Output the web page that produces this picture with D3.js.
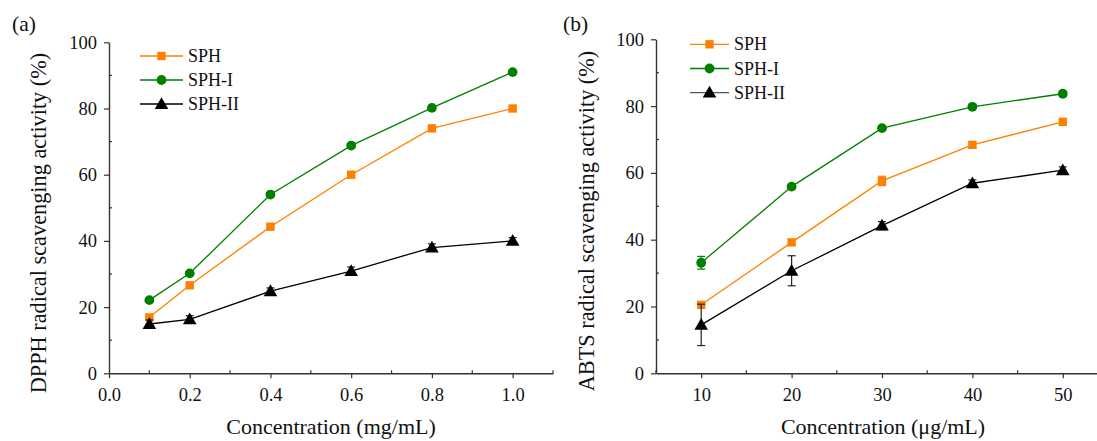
<!DOCTYPE html>
<html>
<head>
<meta charset="utf-8">
<script src="https://cdn.jsdelivr.net/npm/d3@7"></script>
<style>
  html, body { margin: 0; padding: 0; background: #fff; }
  svg { display: block; font-family: "Liberation Serif", "Times New Roman", serif; }
</style>
</head>
<body>
<svg id="chart" width="1097" height="441"></svg>
<script>
// ---- Panel (a): DPPH ----
const dpphConc = [0.1, 0.2, 0.4, 0.6, 0.8, 1.0];
const dpphSPH = [16.9, 26.6, 44.3, 60.0, 74.0, 80.0];
const dpphSPH_I = [22.1, 30.2, 54.0, 68.8, 80.2, 91.0];
const dpphSPH_II = [14.9, 16.3, 24.8, 30.9, 38.0, 40.0];
const dpphErrSPH = [0.6, 0.6, 0.6, 0.5, 0.6, 0.5];
const dpphErrSPH_I = [0.5, 0.6, 0.5, 0.6, 0.5, 0.5];
const dpphErrSPH_II = [1.2, 1.1, 1.0, 1.2, 1.1, 1.0];
const dpphXTicks = [0.0, 0.2, 0.4, 0.6, 0.8, 1.0];

// ---- Panel (b): ABTS ----
const abtsConc = [10, 20, 30, 40, 50];
const abtsSPH = [20.5, 39.2, 57.6, 68.4, 75.3];
const abtsSPH_I = [33.1, 55.9, 73.4, 79.8, 83.7];
const abtsSPH_II = [14.5, 30.7, 44.2, 56.9, 60.8];
const abtsErrSPH = [0.8, 0.8, 1.4, 0.8, 0.6];
const abtsErrSPH_I = [1.9, 0.7, 0.6, 0.6, 0.6];
const abtsErrSPH_II = [6.2, 4.5, 1.2, 1.0, 1.0];
const abtsXTicks = [10, 20, 30, 40, 50];

const yTicks = [0, 20, 40, 60, 80, 100];
const seriesNames = ["SPH", "SPH-I", "SPH-II"];
const seriesColors = ["#ff8000", "#008000", "#000000"];
const seriesShapes = [d3.symbolSquare, d3.symbolCircle, d3.symbolTriangle];
const shapeSizes = [70, 75, 80];

const svg = d3.select("#chart");

function drawPanel(cfg) {
  const g = svg.append("g");
  const x = d3.scaleLinear().domain(cfg.xDomain).range([cfg.left, cfg.right]);
  const y = d3.scaleLinear().domain([0, 100]).range([cfg.bottom, cfg.top]);

  // minor ticks (inside)
  const xMinor = d3.range(cfg.xDomain[0], cfg.xDomain[1] + 1e-9, cfg.xMinorStep)
    .filter(v => !cfg.xTicks.some(t => Math.abs(t - v) < 1e-9));
  g.append("g").selectAll("line").data(xMinor).join("line")
    .attr("x1", d => x(d)).attr("x2", d => x(d))
    .attr("y1", cfg.bottom).attr("y2", cfg.bottom - 3)
    .attr("stroke", "#333").attr("stroke-width", 1.2);
  const yMinor = [10, 30, 50, 70, 90];
  g.append("g").selectAll("line").data(yMinor).join("line")
    .attr("x1", cfg.left).attr("x2", cfg.left + 3)
    .attr("y1", d => y(d)).attr("y2", d => y(d))
    .attr("stroke", "#333").attr("stroke-width", 1.2);

  // axes
  const xAxis = d3.axisBottom(x).tickValues(cfg.xTicks).tickFormat(cfg.xFormat)
    .tickSizeInner(5).tickSizeOuter(0).tickPadding(10);
  const gx = g.append("g").attr("transform", `translate(0,${cfg.bottom})`).call(xAxis);
  const yAxis = d3.axisLeft(y).tickValues(yTicks).tickFormat(d3.format("d"))
    .tickSizeInner(5).tickSizeOuter(0).tickPadding(7);
  const gy = g.append("g").attr("transform", `translate(${cfg.left},0)`).call(yAxis);
  [gx, gy].forEach(ax => {
    ax.attr("font-family", null).attr("font-size", null);
    ax.select(".domain").attr("stroke", "#333").attr("stroke-width", 1.4);
    ax.selectAll(".tick line").attr("stroke", "#333").attr("stroke-width", 1.2);
    ax.selectAll(".tick text").attr("fill", "#111")
      .style("font-family", "Liberation Serif").style("font-size", "18.5px");
  });

  // axis titles
  g.append("text")
    .attr("x", cfg.xTitleX).attr("y", 434)
    .attr("text-anchor", "middle").attr("fill", "#111")
    .style("font-size", "22px").text(cfg.xTitle);
  g.append("text")
    .attr("transform", `translate(${cfg.yTitleX},${cfg.yTitleY}) rotate(-90)`)
    .attr("text-anchor", "middle").attr("dominant-baseline", "middle").attr("fill", "#111")
    .style("font-size", "22.3px").text(cfg.yTitle);

  // panel letter
  g.append("text").attr("x", cfg.letterX).attr("y", 31)
    .attr("fill", "#111").style("font-size", "21.5px").text(cfg.letter);

  // series
  cfg.series.forEach((vals, i) => {
    const pts = cfg.xs.map((c, j) => ({ c, v: vals[j], e: cfg.errs[i][j] }));
    const line = d3.line().x(d => x(d.c)).y(d => y(d.v));
    g.append("path").datum(pts).attr("d", line)
      .attr("fill", "none").attr("stroke", seriesColors[i]).attr("stroke-width", 1.3);
    // error bars
    const eb = g.append("g").attr("stroke", i === 2 ? "#222" : seriesColors[i]).attr("stroke-width", 1.2);
    pts.forEach(d => {
      eb.append("line").attr("x1", x(d.c)).attr("x2", x(d.c))
        .attr("y1", y(d.v - d.e)).attr("y2", y(d.v + d.e));
      [d.v - d.e, d.v + d.e].forEach(v => {
        eb.append("line").attr("x1", x(d.c) - 4).attr("x2", x(d.c) + 4)
          .attr("y1", y(v)).attr("y2", y(v));
      });
    });
    g.append("g").selectAll("path").data(pts).join("path")
      .attr("transform", d => `translate(${x(d.c)},${y(d.v) + (i === 2 ? 1 : 0)})`)
      .attr("d", d3.symbol().type(seriesShapes[i]).size(shapeSizes[i]))
      .attr("fill", seriesColors[i]);
  });

  // legend
  seriesNames.forEach((name, i) => {
    const ly = cfg.legendY + i * cfg.legendStep;
    g.append("line").attr("x1", cfg.legendX).attr("x2", cfg.legendX + cfg.legendLen)
      .attr("y1", ly).attr("y2", ly)
      .attr("stroke", i === 2 && cfg.letter === "(b)" ? "#555" : seriesColors[i]).attr("stroke-width", 1.3);
    g.append("path")
      .attr("transform", `translate(${cfg.legendX + cfg.legendLen / 2},${ly + (i === 2 ? 1 : 0)})`)
      .attr("d", d3.symbol().type(seriesShapes[i]).size(shapeSizes[i]))
      .attr("fill", seriesColors[i]);
    g.append("text").attr("x", cfg.legendX + cfg.legendLen + 5).attr("y", ly)
      .attr("dominant-baseline", "central").attr("fill", "#111")
      .style("font-size", "18px").text(name);
  });
}

drawPanel({
  letter: "(a)", letterX: 12,
  xDomain: [0, 1.1], left: 109, right: 553, top: 42.3, bottom: 373.3,
  xTicks: dpphXTicks, xFormat: d3.format(".1f"), xMinorStep: 0.1,
  xTitle: "Concentration (mg/mL)", xTitleX: 331,
  yTitle: "DPPH radical scavenging activity (%)", yTitleX: 41, yTitleY: 223,
  xs: dpphConc,
  series: [dpphSPH, dpphSPH_I, dpphSPH_II],
  errs: [dpphErrSPH, dpphErrSPH_I, dpphErrSPH_II],
  legendX: 140, legendY: 56, legendStep: 24, legendLen: 43
});

drawPanel({
  letter: "(b)", letterX: 563,
  xDomain: [5, 55], left: 656, right: 1108, top: 39.3, bottom: 373.3,
  xTicks: abtsXTicks, xFormat: d3.format("d"), xMinorStep: 5,
  xTitle: "Concentration (μg/mL)", xTitleX: 883,
  yTitle: "ABTS radical scavenging activity (%)", yTitleX: 589, yTitleY: 221,
  xs: abtsConc,
  series: [abtsSPH, abtsSPH_I, abtsSPH_II],
  errs: [abtsErrSPH, abtsErrSPH_I, abtsErrSPH_II],
  legendX: 690, legendY: 44.3, legendStep: 24.2, legendLen: 39
});
</script>
</body>
</html>
